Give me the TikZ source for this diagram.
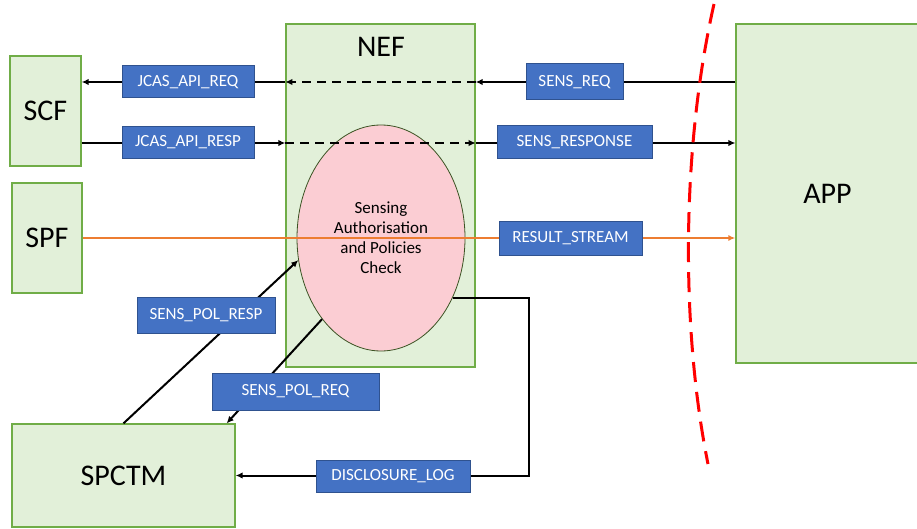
\documentclass[tikz,border=0pt]{standalone}
\usepackage{fontspec}
\setmainfont{Carlito}
\usetikzlibrary{arrows.meta,shapes.geometric}
\definecolor{boxgreen}{HTML}{E2F0D9}
\definecolor{edgegreen}{HTML}{70AD47}
\definecolor{msgblue}{HTML}{4472C4}
\definecolor{msgedge}{HTML}{2F528F}
\definecolor{streamorange}{HTML}{ED7D31}
\definecolor{checkpink}{HTML}{FBCDD3}
\definecolor{checkedge}{HTML}{3B5323}
\tikzset{
  nf/.style={draw=edgegreen, fill=boxgreen, line width=1.3pt, inner sep=0pt,
    font=\fontsize{30}{36}\selectfont},
  msg/.style={draw=msgedge, fill=msgblue, text=white, line width=1pt, inner sep=0pt,
    font=\fontsize{17}{20}\selectfont},
  flow/.style={line width=2pt, -{Latex[length=7pt,width=6.5pt]}},
  dashflow/.style={flow, dash pattern=on 9pt off 6pt},
}

\begin{document}
\begin{tikzpicture}[x=1pt,y=-1pt]
    \useasboundingbox (0,0) rectangle (917,529);
    % network functions
    \node[nf, minimum width=71, minimum height=110] (scf) at (45.5,111) {SCF};
    \node[nf, minimum width=70, minimum height=110] (spf) at (47,238) {SPF};
    \node[nf, minimum width=189, minimum height=343] (nef) at (380.5,195.5) {};
    \node[font=\fontsize{30}{36}\selectfont] (neflbl) at (381,47) {NEF};
    \node[nf, minimum width=183, minimum height=339] (app) at (827.5,193.5) {APP};
    \node[nf, minimum width=223, minimum height=103] (spctm) at (123.5,475.5) {SPCTM};
    \node[ellipse, draw=checkedge, fill=checkpink, line width=0.8pt, inner sep=0pt,
      minimum width=168, minimum height=226, align=center,
      font=\fontsize{17}{20}\selectfont] (chk) at (381,238)
      {Sensing\\Authorisation\\and Policies\\Check};

    % message rows
    \coordinate (reqy) at (0,82);
    \coordinate (respy) at (0,143);
    \coordinate (streamy) at (0,238);
    \coordinate (logx) at (529,0);

    \draw[flow] (app.west |- reqy) -- (nef.east |- reqy);
    \draw[dashflow] (nef.east |- reqy) -- (nef.west |- reqy);
    \draw[flow] (nef.west |- reqy) -- (scf.east |- reqy);

    \draw[flow] (scf.east |- respy) -- (nef.west |- respy);
    \draw[dashflow] (nef.west |- respy) -- (nef.east |- respy);
    \draw[flow] (nef.east |- respy) -- (app.west |- respy);

    \draw[streamorange, line width=1.8pt, -{Latex[length=7pt,width=6pt]}]
      (spf.east |- streamy) -- (app.west |- streamy);

    \draw[flow] (spctm.north) -- (chk.195);
    \draw[flow] (chk.234) -- ([xshift=-9pt]spctm.north east);
    \draw[flow] (chk.-40) -| (logx |- spctm.east) -- (spctm.east);

    % labels
    \node[msg, minimum width=132, minimum height=32] (jcasreq) at (188,82) {JCAS\_API\_REQ};
    \node[msg, minimum width=132, minimum height=32] (jcasresp) at (188,142.5) {JCAS\_API\_RESP};
    \node[msg, minimum width=97, minimum height=36] (sensreq) at (574.5,82) {SENS\_REQ};
    \node[msg, minimum width=155, minimum height=33] (sensresp) at (574.5,142.5) {SENS\_RESPONSE};
    \node[msg, minimum width=143, minimum height=33] (result) at (570.5,238.5) {RESULT\_STREAM};
    \node[msg, minimum width=138, minimum height=36] (polresp) at (206,315) {SENS\_POL\_RESP};
    \node[msg, minimum width=167, minimum height=37] (polreq) at (295.5,391.5) {SENS\_POL\_REQ};
    \node[msg, minimum width=154, minimum height=32] (dislog) at (393,476) {DISCLOSURE\_LOG};

    % trust boundary
    \draw[red, line width=3pt, dash pattern=on 20pt off 10pt]
      (714,4) .. controls (681,150) and (681,330) .. (708,464);
\end{tikzpicture}
\end{document}
